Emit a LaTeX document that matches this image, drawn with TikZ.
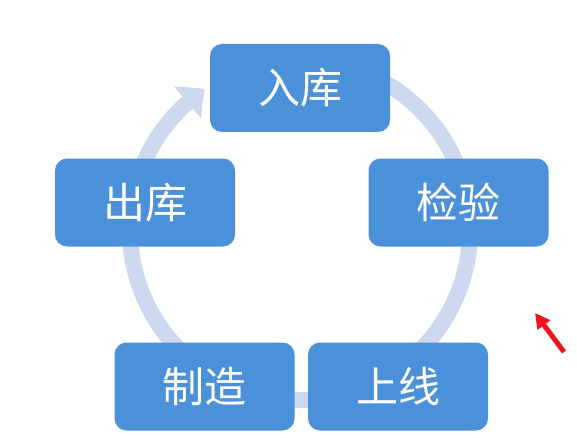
\documentclass[tikz,border=0pt]{standalone}
\usepackage{fontspec}
\newfontfamily\cjk{Noto Sans CJK SC}
\usetikzlibrary{arrows.meta,bending}
\definecolor{boxblue}{RGB}{75,145,217}
\definecolor{ringblue}{RGB}{205,217,238}
\definecolor{redarrow}{RGB}{240,20,30}
\tikzset{
  stagebox/.style={draw=none, fill=boxblue, rounded corners=12pt,
    minimum width=180pt, minimum height=88pt, inner sep=0pt,
    text=white, font=\cjk\fontsize{42}{50}\selectfont},
  ringline/.style={draw=ringblue, line width=16pt},
}
\begin{document}
\begin{tikzpicture}[x=1pt,y=1pt]
\useasboundingbox (0,0) rectangle (577,437);
% ring
\coordinate (ringc) at (300,207);
\draw[ringline, -{Triangle[width=40pt,length=22pt,bend]}]
  ([shift={(65:170)}]ringc) arc[start angle=65, end angle=-236, radius=170];
% boxes
\node[stagebox] (ruku)   at (300,349)   {入库};
\node[stagebox] (jianyan) at (458.5,234.5) {检验};
\node[stagebox] (shangxian) at (398,50.5) {上线};
\node[stagebox] (zhizao) at (204.5,50.5) {制造};
\node[stagebox] (chuku)  at (145,234.5) {出库};
% red arrow
\coordinate (rtail) at (564,85);
\coordinate (rhead) at (535,124);
\draw[redarrow, line width=5pt, -{Triangle[width=15pt,length=15pt]}] (rtail) -- (rhead);
\end{tikzpicture}
\end{document}
